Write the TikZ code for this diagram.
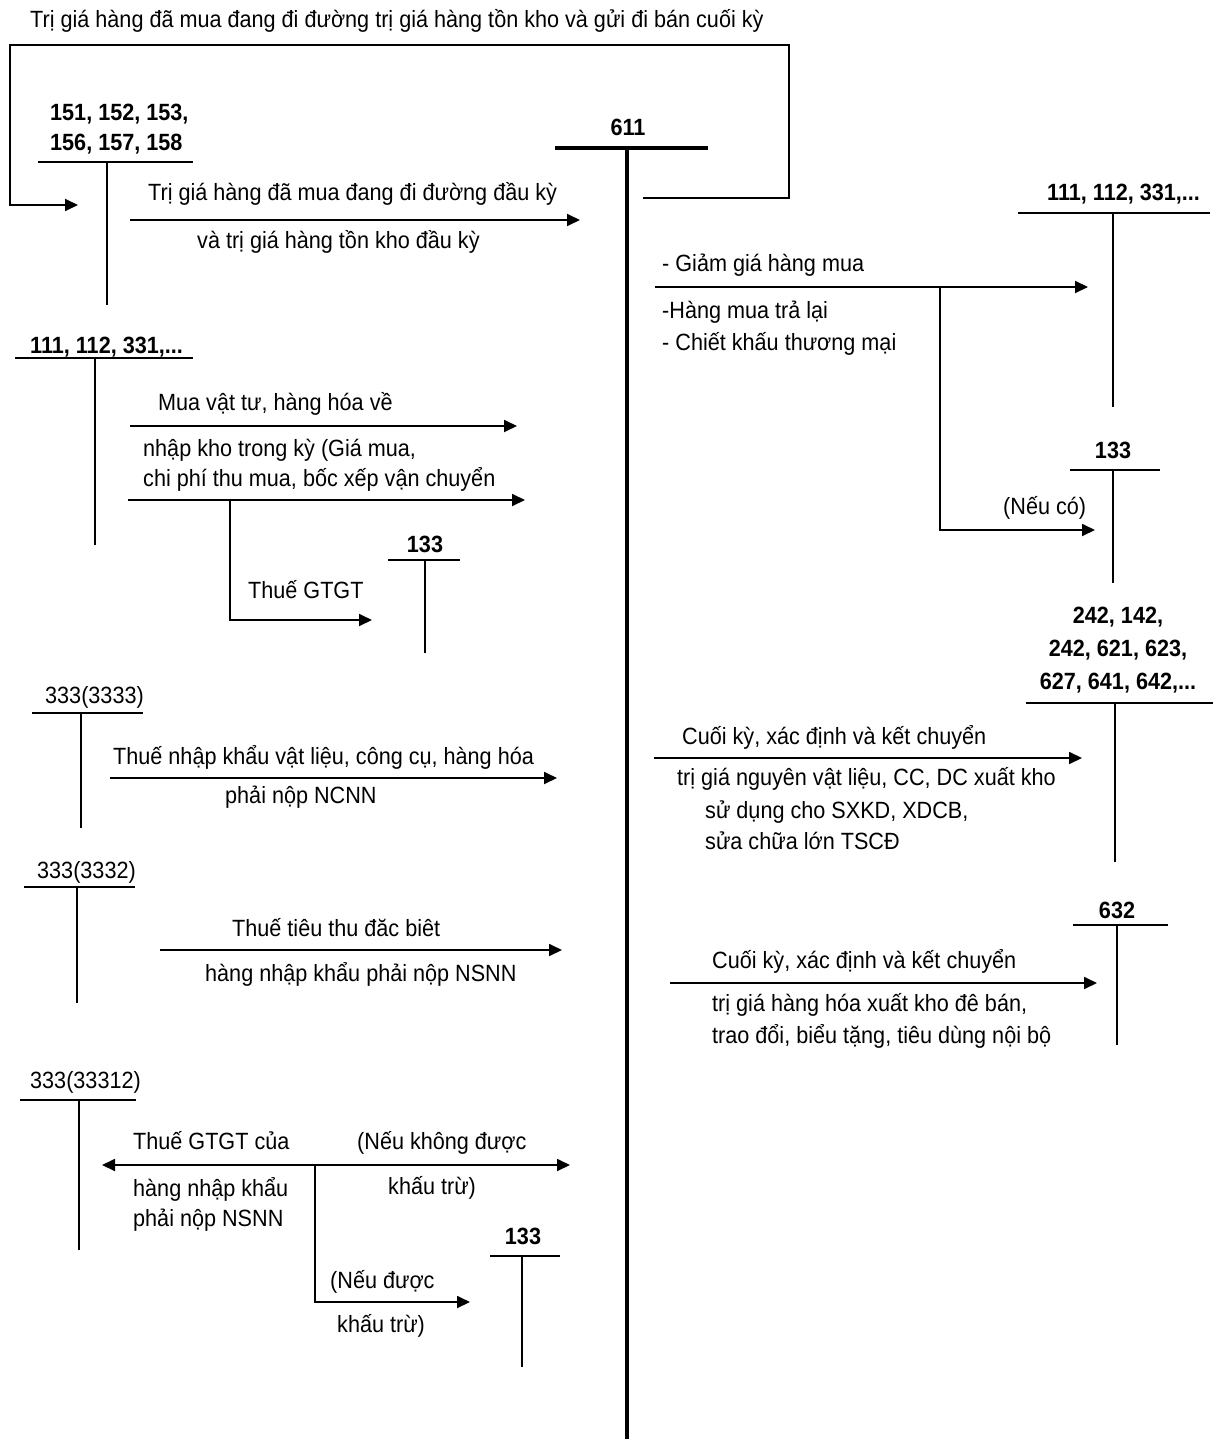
\documentclass[tikz,border=0pt]{standalone}
\usepackage{fontspec}
\setmainfont{Liberation Sans}[FakeStretch=0.92]
\usetikzlibrary{arrows.meta}
\begin{document}
\begin{tikzpicture}[x=1pt,y=-1pt,
  lbl/.style={font=\fontsize{23.5}{26}\selectfont, inner sep=0pt, text height=17pt, text depth=5pt, anchor=west},
  acc/.style={font=\bfseries\fontsize{23.5}{26}\selectfont, inner sep=0pt, text height=17pt, text depth=5pt},
  accr/.style={font=\fontsize{23.5}{26}\selectfont, inner sep=0pt, text height=17pt, text depth=5pt, anchor=west},
  tl/.style={line width=1.8pt},
  thick611/.style={line width=3.6pt},
  arr/.style={line width=1.8pt, -{Triangle[length=13pt,width=12pt]}}]
\fill[white] (0,0) rectangle (1229,1439);
\useasboundingbox (0,0) rectangle (1229,1439);

% top loop
\node[lbl] (ttop) at (30,22) {Trị giá hàng đã mua đang đi đường trị giá hàng tồn kho và gửi đi bán cuối kỳ};
\coordinate (lpR3) at (643,198);
\coordinate (lpR2) at (789,198);
\coordinate (lpR1) at (789,45);
\coordinate (lpL1) at (10,45);
\coordinate (lpL2) at (10,205);
\coordinate (lpL3) at (78,205);
\draw[arr] (lpR3) -- (lpR2) -- (lpR1) -- (lpL1) -- (lpL2) -- (lpL3);

% account 151...
\node[acc,anchor=west] (a1) at (50,115) {151, 152, 153,};
\node[acc,anchor=west] (a2) at (50,145) {156, 157, 158};
\coordinate (aL) at (38,162); \coordinate (aR) at (193,162);
\coordinate (aT) at (107,162); \coordinate (aB) at (107,305);
\draw[tl] (aL) -- (aR); \draw[tl] (aT) -- (aB);
\coordinate (e1s) at (130,220); \coordinate (e1e) at (580,220);
\draw[arr] (e1s) -- (e1e);
\node[lbl] (t1a) at (148,195) {Trị giá hàng đã mua đang đi đường đầu kỳ};
\node[lbl] (t1b) at (197,243) {và trị giá hàng tồn kho đầu kỳ};

% 611
\node[acc] (n611) at (628,130) {611};
\coordinate (mL) at (555,148); \coordinate (mR) at (708,148);
\coordinate (mT) at (627,148); \coordinate (mB) at (627,1439);
\draw[thick611] (mL) -- (mR); \draw[thick611] (mT) -- (mB);

% account 111 left
\node[acc,anchor=west] (b1) at (30,347) {111, 112, 331,...};
\coordinate (bL) at (15,358); \coordinate (bR) at (193,358);
\coordinate (bT) at (95,358); \coordinate (bB) at (95,545);
\draw[tl] (bL) -- (bR); \draw[tl] (bT) -- (bB);
\coordinate (e2s) at (130,426); \coordinate (e2e) at (517,426);
\draw[arr] (e2s) -- (e2e);
\node[lbl] (t2a) at (158,404) {Mua vật tư, hàng hóa về};
\node[lbl] (t2b) at (143,450) {nhập kho trong kỳ (Giá mua,};
\node[lbl] (t2c) at (143,480) {chi phí thu mua, bốc xếp vận chuyển};
\coordinate (e3s) at (128,500); \coordinate (e3e) at (525,500);
\draw[arr] (e3s) -- (e3e);
\coordinate (e4s) at (230,500); \coordinate (e4m) at (230,620); \coordinate (e4e) at (372,620);
\draw[arr] (e4s) -- (e4m) -- (e4e);
\node[lbl] (t4) at (248,592) {Thuế GTGT};
\node[acc] (c133a) at (425,546) {133};
\coordinate (cL) at (388,560); \coordinate (cR) at (460,560);
\coordinate (cT) at (425,560); \coordinate (cB) at (425,653);
\draw[tl] (cL) -- (cR); \draw[tl] (cT) -- (cB);

% 333(3333)
\node[accr] (d1) at (45,697) {333(3333)};
\coordinate (dL) at (32,713); \coordinate (dR) at (143,713);
\coordinate (dT) at (81,713); \coordinate (dB) at (81,828);
\draw[tl] (dL) -- (dR); \draw[tl] (dT) -- (dB);
\coordinate (e5s) at (110,778); \coordinate (e5e) at (557,778);
\draw[arr] (e5s) -- (e5e);
\node[lbl] (t5a) at (113,758) {Thuế nhập khẩu vật liệu, công cụ, hàng hóa};
\node[lbl] (t5b) at (225,797) {phải nộp NCNN};

% 333(3332)
\node[accr] (f1) at (37,872) {333(3332)};
\coordinate (fL) at (24,887); \coordinate (fR) at (135,887);
\coordinate (fT) at (77,887); \coordinate (fB) at (77,1003);
\draw[tl] (fL) -- (fR); \draw[tl] (fT) -- (fB);
\coordinate (e6s) at (160,950); \coordinate (e6e) at (562,950);
\draw[arr] (e6s) -- (e6e);
\node[lbl] (t6a) at (232,930) {Thuế tiêu thu đăc biêt};
\node[lbl] (t6b) at (205,975) {hàng nhập khẩu phải nộp NSNN};

% 333(33312)
\node[accr] (g1) at (30,1082) {333(33312)};
\coordinate (gL) at (20,1100); \coordinate (gR) at (136,1100);
\coordinate (gT) at (79,1100); \coordinate (gB) at (79,1250);
\draw[tl] (gL) -- (gR); \draw[tl] (gT) -- (gB);
\coordinate (br) at (315,1165);
\coordinate (e7l) at (102,1165); \coordinate (e7r) at (570,1165);
\draw[arr] (br) -- (e7l);
\draw[arr] (br) -- (e7r);
\coordinate (e8m) at (315,1302); \coordinate (e8e) at (470,1302);
\draw[arr] (br) -- (e8m) -- (e8e);
\node[lbl] (t7a) at (133,1143) {Thuế GTGT của};
\node[lbl] (t7b) at (133,1190) {hàng nhập khẩu};
\node[lbl] (t7c) at (133,1220) {phải nộp NSNN};
\node[lbl] (t7d) at (357,1143) {(Nếu không được};
\node[lbl] (t7e) at (388,1188) {khấu trừ)};
\node[lbl] (t8a) at (330,1282) {(Nếu được};
\node[lbl] (t8b) at (337,1326) {khấu trừ)};
\node[acc] (c133c) at (523,1238) {133};
\coordinate (hL) at (490,1256); \coordinate (hR) at (560,1256);
\coordinate (hT) at (522,1256); \coordinate (hB) at (522,1367);
\draw[tl] (hL) -- (hR); \draw[tl] (hT) -- (hB);

% right: 111...
\node[acc,anchor=west] (r1) at (1047,195) {111, 112, 331,...};
\coordinate (rL) at (1018,213); \coordinate (rR) at (1210,213);
\coordinate (rT) at (1113,213); \coordinate (rB) at (1113,407);
\draw[tl] (rL) -- (rR); \draw[tl] (rT) -- (rB);
\coordinate (e9s) at (655,287); \coordinate (e9e) at (1088,287);
\draw[arr] (e9s) -- (e9e);
\node[lbl] (t9a) at (662,266) {- Giảm giá hàng mua};
\node[lbl] (t9b) at (662,312) {-Hàng mua trả lại};
\node[lbl] (t9c) at (662,344) {- Chiết khấu thương mại};
\coordinate (e10s) at (940,287); \coordinate (e10m) at (940,530); \coordinate (e10e) at (1095,530);
\draw[arr] (e10s) -- (e10m) -- (e10e);
\node[lbl] (t10) at (1003,508) {(Nếu có)};
\node[acc] (c133b) at (1113,452) {133};
\coordinate (sL) at (1070,470); \coordinate (sR) at (1160,470);
\coordinate (sT) at (1113,470); \coordinate (sB) at (1113,583);
\draw[tl] (sL) -- (sR); \draw[tl] (sT) -- (sB);

% 242 group
\node[acc] (k1) at (1118,617) {242, 142,};
\node[acc] (k2) at (1118,650) {242, 621, 623,};
\node[acc] (k3) at (1118,683) {627, 641, 642,...};
\coordinate (kL) at (1026,703); \coordinate (kR) at (1213,703);
\coordinate (kT) at (1115,703); \coordinate (kB) at (1115,862);
\draw[tl] (kL) -- (kR); \draw[tl] (kT) -- (kB);
\coordinate (e11s) at (654,758); \coordinate (e11e) at (1082,758);
\draw[arr] (e11s) -- (e11e);
\node[lbl] (t11a) at (682,738) {Cuối kỳ, xác định và kết chuyển};
\node[lbl] (t11b) at (677,779) {trị giá nguyên vật liệu, CC, DC xuất kho};
\node[lbl] (t11c) at (705,812) {sử dụng cho SXKD, XDCB,};
\node[lbl] (t11d) at (705,843) {sửa chữa lớn TSCĐ};

% 632
\node[acc] (p632) at (1117,912) {632};
\coordinate (pL) at (1073,925); \coordinate (pR) at (1168,925);
\coordinate (pT) at (1117,925); \coordinate (pB) at (1117,1045);
\draw[tl] (pL) -- (pR); \draw[tl] (pT) -- (pB);
\coordinate (e12s) at (670,983); \coordinate (e12e) at (1097,983);
\draw[arr] (e12s) -- (e12e);
\node[lbl] (t12a) at (712,962) {Cuối kỳ, xác định và kết chuyển};
\node[lbl] (t12b) at (712,1005) {trị giá hàng hóa xuất kho đê bán,};
\node[lbl] (t12c) at (712,1037) {trao đổi, biểu tặng, tiêu dùng nội bộ};
\end{tikzpicture}
\end{document}
